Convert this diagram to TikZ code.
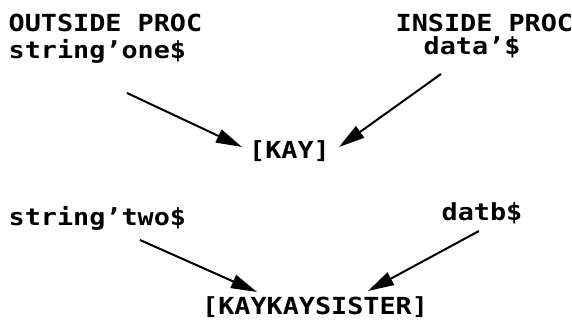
\documentclass[tikz,border=0pt]{standalone}
\usepackage{fontspec}
\usetikzlibrary{arrows.meta,calc}
\newfontfamily\monofnt[FakeStretch=1.14]{DejaVu Sans Mono Bold}
\begin{document}
\begin{tikzpicture}[x=1pt,y=1pt,
  lbl/.style={inner sep=0pt,anchor=base west,font=\monofnt\fontsize{23.5pt}{26pt}\selectfont},
  arr/.style={line width=2pt,-{Triangle[length=26pt,width=14pt]}}]
\useasboundingbox (0,0) rectangle (572,320);
\node[lbl] (outside) at (8.5,288) {OUTSIDE PROC};
\node[lbl] (one) at (8.5,261) {string’one\$};
\node[lbl] (inside) at (395.5,288) {INSIDE PROC};
\node[lbl] (data) at (423.5,265) {data’\$};
\node[lbl] (kay) at (249,161) {[KAY]};
\node[lbl] (two) at (8.5,94) {string’two\$};
\node[lbl] (datb) at (441.5,99) {datb\$};
\node[lbl] (sister) at (202,5) {[KAYKAYSISTER]};
\coordinate (s1) at ([shift={(118.5,-34)}]one.base west);
\coordinate (s2) at ([shift={(17.5,-19)}]data.base west);
\coordinate (s3) at ([shift={(131.5,-14)}]two.base west);
\coordinate (s4) at ([shift={(37.5,-10)}]datb.base west);
\draw[arr] (s1) -- ([shift={(-7,12)}]kay.base west);
\draw[arr] (s2) -- ([shift={(90,12)}]kay.base west);
\draw[arr] (s3) -- ([shift={(55,23)}]sister.base west);
\draw[arr] (s4) -- ([shift={(166,24)}]sister.base west);
\end{tikzpicture}
\end{document}
